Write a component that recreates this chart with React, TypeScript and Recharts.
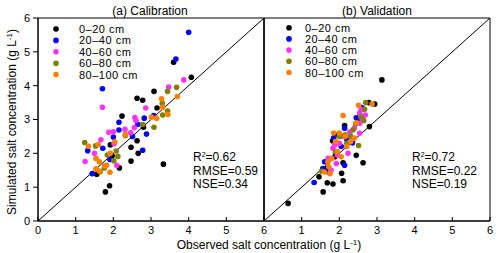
import React from "react";
import { ScatterChart, Scatter, XAxis, YAxis, ReferenceLine, ReferenceArea } from "recharts";

type Pt = [number, number];

const depths = ["0–20 cm", "20–40 cm", "40–60 cm", "60–80 cm", "80–100 cm"];
const colors = ["#000000", "#0000FF", "#FF33FF", "#808000", "#FF8000"];
const axisTicks = [0, 1, 2, 3, 4, 5, 6];

// (a) calibration: [observed, simulated]
const cal020: Pt[] = [[4.07, 4.25], [3.6, 4.69], [3.08, 3.83], [2.63, 3.63], [2.78, 3.57], [3.16, 3.34], [2.23, 3.1], [2.8, 2.77], [2.63, 2.37], [2.47, 2.18], [2.66, 2.0], [1.92, 2.25], [2.16, 1.57], [2.47, 1.77], [3.33, 1.68], [1.56, 1.38], [1.9, 1.04], [1.79, 0.86], [1.97, 1.93]];
const cal2040: Pt[] = [[4.0, 5.58], [3.66, 4.79], [1.71, 3.91], [2.15, 2.92], [2.82, 3.04], [2.65, 2.86], [2.88, 2.57], [2.15, 2.69], [2.0, 2.48], [1.72, 2.15], [1.32, 2.08], [2.78, 2.09], [1.44, 1.4], [1.91, 1.82], [2.51, 2.5], [3.07, 3.12]];
const cal4060: Pt[] = [[3.87, 4.17], [3.47, 3.96], [1.71, 3.36], [2.86, 3.34], [2.57, 3.06], [2.6, 2.97], [2.31, 2.71], [2.0, 2.64], [1.88, 2.62], [2.46, 2.61], [2.56, 2.76], [1.67, 2.4], [2.02, 2.28], [1.5, 2.0], [1.25, 1.76], [2.09, 1.65]];
const cal6080: Pt[] = [[3.68, 3.95], [3.44, 3.83], [3.3, 3.48], [3.44, 3.25], [3.31, 3.13], [3.08, 2.77], [2.78, 2.85], [2.32, 2.53], [1.24, 2.32], [1.53, 2.22], [1.84, 1.95], [2.12, 1.91], [2.01, 1.78], [2.08, 2.07], [1.76, 1.57], [1.65, 1.46]];
const cal80100: Pt[] = [[3.7, 3.68], [3.28, 3.61], [3.31, 3.36], [3.45, 3.15], [3.15, 3.04], [3.01, 3.07], [2.32, 2.56], [2.04, 2.34], [1.34, 2.21], [1.6, 2.26], [1.54, 1.85], [1.63, 1.75], [1.92, 2.0], [1.54, 1.54], [1.63, 1.48], [1.77, 1.63], [1.91, 1.44], [1.82, 1.65]];

// (b) validation
const val020: Pt[] = [[0.64, 0.52], [1.57, 0.86], [1.46, 1.31], [1.68, 1.13], [1.83, 1.09], [2.1, 1.19], [2.06, 1.41], [2.1, 1.72], [2.63, 1.72], [2.45, 1.94], [1.88, 1.9], [1.82, 2.37], [1.88, 2.55], [2.14, 2.82], [2.8, 2.79], [2.78, 3.5], [2.94, 3.46], [3.13, 4.17], [1.65, 1.55]];
const val2040: Pt[] = [[1.33, 1.14], [1.61, 1.75], [1.7, 1.45], [1.56, 1.55], [2.14, 1.65], [2.35, 2.31], [1.9, 2.0], [2.14, 2.74], [2.49, 2.94], [2.6, 3.35], [2.2, 2.4], [2.05, 2.2], [1.85, 2.45], [2.45, 3.05]];
const val4060: Pt[] = [[1.83, 2.15], [1.92, 1.7], [2.23, 2.0], [2.28, 2.63], [2.58, 3.3], [2.54, 3.19], [2.69, 3.13], [2.54, 2.89], [2.54, 2.59], [1.7, 1.85], [1.78, 1.5], [2.0, 2.3], [2.4, 2.75], [1.88, 2.25], [2.62, 3.0], [1.95, 1.95], [2.1, 2.5]];
const val6080: Pt[] = [[2.51, 2.23], [1.53, 1.47], [2.67, 3.3], [2.57, 3.09], [2.65, 2.97], [2.43, 2.87], [2.36, 2.69], [2.3, 2.5], [2.0, 2.5], [1.9, 2.05], [2.2, 2.3], [2.7, 3.5], [2.15, 2.55]];
const val80100: Pt[] = [[1.72, 1.6], [2.1, 3.12], [2.51, 3.42], [2.87, 3.46], [1.8, 1.85], [1.95, 2.05], [2.05, 1.9], [2.2, 2.2], [2.3, 2.35], [1.85, 2.6], [2.0, 2.6], [2.4, 2.45], [1.7, 1.75], [2.15, 2.5], [1.9, 2.35], [2.45, 2.9], [1.75, 1.4], [1.6, 1.45]];

const calSeries = [cal020, cal2040, cal4060, cal6080, cal80100];
const valSeries = [val020, val2040, val4060, val6080, val80100];

const font = "'Liberation Sans', Arial, sans-serif";
const tickStyle = { fill: "#000", fontSize: 11, fontFamily: font };

const toXY = (pts: Pt[]) => pts.map(([x, y]) => ({ x, y }));

const dot = (color: string) => (props: any) => (
  <circle cx={props.cx} cy={props.cy} r={2.8} fill={color} />
);

function Panel({ series, left, width, margin, first }: any) {
  return (
    <div style={{ position: "absolute", left, top: 0 }}>
      <ScatterChart width={width} height={253} margin={margin}>
        <XAxis
          type="number"
          dataKey="x"
          domain={[0, 6]}
          ticks={axisTicks}
          interval={0}
          height={20}
          tick={tickStyle}
          tickFormatter={(v: number) => (!first && v === 0 ? "" : String(v))}
          tickSize={-4}
          tickMargin={9}
          axisLine={{ stroke: "#000" }}
          tickLine={{ stroke: "#000" }}
        />
        {first ? (
          <YAxis
            type="number"
            dataKey="y"
            domain={[0, 6]}
            ticks={axisTicks}
            interval={0}
            width={30}
            tick={tickStyle}
            tickSize={5}
            tickMargin={3}
            axisLine={{ stroke: "#000" }}
            tickLine={{ stroke: "#000" }}
          />
        ) : (
          <YAxis
            type="number"
            dataKey="y"
            domain={[0, 6]}
            ticks={axisTicks}
            interval={0}
            mirror
            tick={false}
            tickSize={5}
            axisLine={{ stroke: "#000" }}
            tickLine={{ stroke: "#000" }}
          />
        )}
        <ReferenceArea x1={0} x2={6} y1={0} y2={6} fill="none" stroke="#000" strokeWidth={1} ifOverflow="visible" />
        <ReferenceLine segment={[{ x: 0, y: 0 }, { x: 6, y: 6 }]} stroke="#000" strokeWidth={1} />
        {series.map((pts: Pt[], i: number) => (
          <Scatter
            key={depths[i]}
            name={depths[i]}
            data={toXY(pts)}
            fill={colors[i]}
            shape={dot(colors[i])}
            isAnimationActive={false}
          />
        ))}
      </ScatterChart>
    </div>
  );
}

function Legend({ dotX, textX, y0, step }: any) {
  return (
    <g>
      {depths.map((d, i) => (
        <g key={d}>
          <circle cx={dotX} cy={y0 + i * step} r={2.8} fill={colors[i]} />
          <text x={textX} y={y0 + i * step + 4} fontSize={11} letterSpacing={0.5}>{d}</text>
        </g>
      ))}
    </g>
  );
}

function Stats({ x, r2, rmse, nse }: any) {
  return (
    <g fontSize={12}>
      <text x={x} y={161}>R<tspan fontSize={7} dy={-4.5}>2</tspan><tspan dy={4.5}>=</tspan>{r2}</text>
      <text x={x} y={175}>RMSE={rmse}</text>
      <text x={x} y={188}>NSE={nse}</text>
    </g>
  );
}

export default function App() {
  return (
    <div style={{ position: "absolute", left: 0, top: 0, width: 500, height: 253, background: "#fff", fontFamily: font }}>
      <style>{`.recharts-surface{overflow:visible}`}</style>
      <Panel series={calSeries} left={0} width={264} margin={{ top: 18, right: 0, bottom: 12, left: 8 }} first />
      <Panel series={valSeries} left={264} width={236} margin={{ top: 18, right: 10, bottom: 12, left: 0 }} first={false} />
      <svg width={500} height={253} style={{ position: "absolute", left: 0, top: 0, pointerEvents: "none" }} fontFamily={font} fill="#000">
        <text x={150} y={15} fontSize={12} textAnchor="middle">(a) Calibration</text>
        <text x={377} y={15} fontSize={12} textAnchor="middle">(b) Validation</text>
        <Legend dotX={56} textX={79} y0={29} step={11.4} />
        <Legend dotX={289} textX={305} y0={27.7} step={11.2} />
        <Stats x={193} r2="0.62" rmse="0.59" nse="0.34" />
        <Stats x={412} r2="0.72" rmse="0.22" nse="0.19" />
        <text x={269} y={249} fontSize={12} textAnchor="middle">
          Observed salt concentration (g L<tspan fontSize={8} dy={-4}>-1</tspan><tspan dy={4}>)</tspan>
        </text>
        <text transform="translate(16,122) rotate(-90)" fontSize={12} textAnchor="middle">
          Simulated salt concentration (g L<tspan fontSize={8} dy={-4}>-1</tspan><tspan dy={4}>)</tspan>
        </text>
      </svg>
    </div>
  );
}
